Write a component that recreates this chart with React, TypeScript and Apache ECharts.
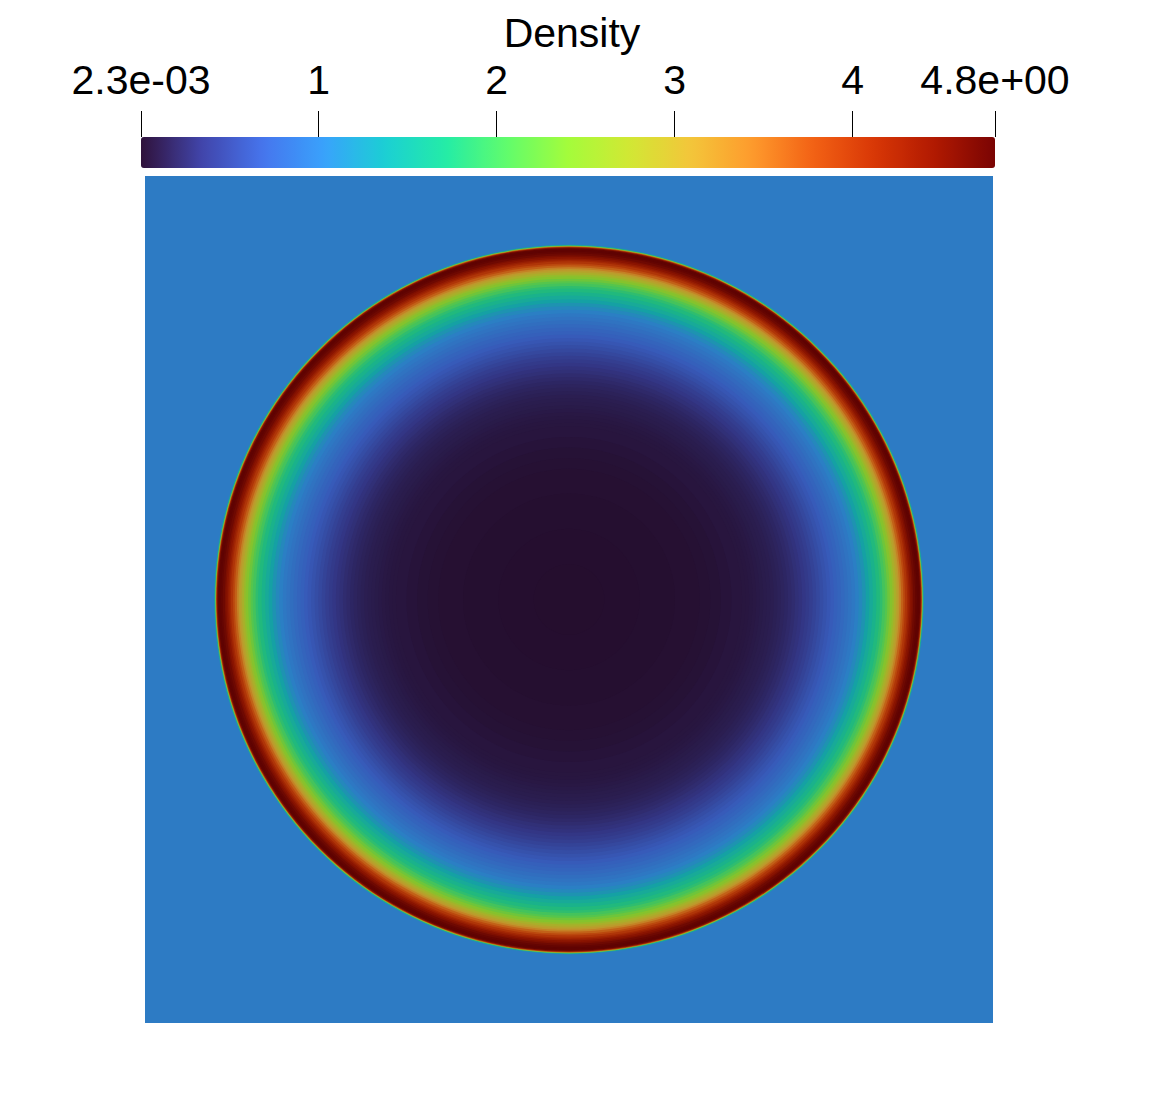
import React, { useEffect, useRef } from "react";
import * as echarts from "echarts";

// ---- data ----
const densityMin = 0.0023;
const densityMax = 4.8;
const domainHalfWidth = 1.2;
const ambientDensity = 1;
const colorbarTicks = [0.0023, 1, 2, 3, 4, 4.8];
const colorbarTickLabels = ["2.3e-03", "1", "2", "3", "4", "4.8e+00"];

// radial density profile of the blast wave (radius, density)
const profileRadius = [
  0.0, 0.1, 0.2, 0.3, 0.37, 0.4, 0.43, 0.46, 0.49, 0.5, 0.51, 0.52, 0.53, 0.54, 0.55, 0.56, 0.57,
  0.58, 0.59, 0.6, 0.61, 0.62, 0.63, 0.64, 0.65, 0.66, 0.67, 0.68, 0.69, 0.7, 0.71, 0.72, 0.73,
  0.74, 0.75, 0.76, 0.77, 0.78, 0.79, 0.8, 0.81, 0.82, 0.83, 0.84, 0.85, 0.86, 0.87, 0.88, 0.887,
  0.895, 0.901, 0.908, 0.915, 0.92, 0.926, 0.931, 0.935, 0.94, 0.946, 0.951, 0.957, 0.961, 0.965,
  0.97, 0.974, 0.98, 0.985, 0.99, 0.994, 0.997, 0.999, 1.001, 1.003, 1.005,
];
const profileDensity = [
  0.0023, 0.003, 0.005, 0.01, 0.02, 0.027, 0.035, 0.048, 0.065, 0.07, 0.075, 0.082, 0.09, 0.1,
  0.11, 0.12, 0.13, 0.14, 0.155, 0.17, 0.19, 0.21, 0.235, 0.26, 0.29, 0.315, 0.345, 0.38, 0.42,
  0.465, 0.51, 0.555, 0.6, 0.645, 0.69, 0.735, 0.78, 0.825, 0.87, 0.92, 0.97, 1.04, 1.13, 1.24,
  1.38, 1.5, 1.62, 1.75, 1.85, 2.0, 2.12, 2.28, 2.45, 2.62, 2.82, 2.98, 3.12, 3.35, 3.62, 3.82,
  4.02, 4.18, 4.32, 4.46, 4.56, 4.68, 4.76, 4.8, 4.78, 4.5, 3.8, 2.6, 1.6, 1.15,
];

// ---- style ----
const turboStops = [
  "#30123b", "#4145ab", "#4675ed", "#39a2fc", "#1bcfd4", "#24eca6", "#61fc6c", "#a4fc3b",
  "#d1e834", "#f3c63a", "#fe9b2d", "#f36315", "#d93806", "#b11901", "#7a0403",
];
const shade = 0.78;
const shadedStops = turboStops.map((h) => {
  const n = parseInt(h.slice(1), 16);
  const r = Math.round(((n >> 16) & 255) * shade);
  const g = Math.round(((n >> 8) & 255) * shade);
  const b = Math.round((n & 255) * shade);
  return `rgb(${r},${g},${b})`;
});
const FONT = "Liberation Sans";

export default function App() {
  const ref = useRef<HTMLDivElement>(null);
  useEffect(() => {
    if (!ref.current) return;
    const chart = echarts.init(ref.current, null, { renderer: "svg" });

    const discData = profileRadius.map((r, i) => [r, profileDensity[i]]).reverse();

    const option = {
      animation: false,
      backgroundColor: "#ffffff",
      title: {
        text: "Density",
        left: 572,
        top: 12,
        padding: 0,
        textAlign: "center",
        textStyle: { fontFamily: FONT, fontSize: 41, fontWeight: "normal", color: "#000" },
      },
      grid: [
        { left: 141, top: 137, width: 854, height: 31 },
        { left: 145, top: 176, width: 848, height: 847 },
      ],
      xAxis: [
        {
          gridIndex: 0,
          type: "value",
          min: densityMin,
          max: densityMax,
          position: "top",
          axisLine: { show: false, onZero: false },
          splitLine: { show: false },
          axisTick: {
            show: true,
            customValues: colorbarTicks,
            length: 26,
            inside: false,
            lineStyle: { color: "#000", width: 1 },
          },
          axisLabel: {
            show: true,
            customValues: colorbarTicks,
            margin: 37,
            fontSize: 41,
            fontFamily: FONT,
            color: "#000",
            formatter: (v: number) => {
              const i = colorbarTicks.findIndex((t) => Math.abs(t - v) < 1e-6);
              return i >= 0 ? colorbarTickLabels[i] : "";
            },
          },
          z: 10,
        },
        { gridIndex: 1, type: "value", min: -domainHalfWidth, max: domainHalfWidth, show: false },
      ],
      yAxis: [
        { gridIndex: 0, type: "value", min: 0, max: 1, show: false },
        { gridIndex: 1, type: "value", min: -domainHalfWidth, max: domainHalfWidth, show: false },
      ],
      visualMap: [
        {
          type: "continuous",
          show: true,
          min: densityMin,
          max: densityMax,
          orient: "horizontal",
          left: 141,
          top: 137,
          padding: 0,
          itemWidth: 31,
          itemHeight: 854,
          calculable: false,
          hoverLink: false,
          seriesIndex: 2,
          inRange: { color: turboStops },
        },
        {
          type: "continuous",
          show: false,
          min: densityMin,
          max: densityMax,
          dimension: 1,
          seriesIndex: [0, 1],
          inRange: { color: shadedStops },
        },
      ],
      series: [
        {
          type: "custom",
          xAxisIndex: 1,
          yAxisIndex: 1,
          silent: true,
          data: [[domainHalfWidth, ambientDensity]],
          renderItem: (params: any, api: any) => {
            const h = api.value(0);
            const p0 = api.coord([-h, h]);
            const p1 = api.coord([h, -h]);
            return {
              type: "rect",
              shape: { x: p0[0], y: p0[1], width: p1[0] - p0[0], height: p1[1] - p0[1] },
              style: { fill: api.visual("color") },
            };
          },
        },
        {
          type: "custom",
          xAxisIndex: 1,
          yAxisIndex: 1,
          silent: true,
          data: discData,
          renderItem: (params: any, api: any) => {
            const c = api.coord([0, 0]);
            const e = api.coord([api.value(0), 0]);
            return {
              type: "circle",
              shape: { cx: c[0], cy: c[1], r: Math.max(0, e[0] - c[0]) },
              style: { fill: api.visual("color") },
            };
          },
        },
        {
          type: "line",
          xAxisIndex: 0,
          yAxisIndex: 0,
          data: [],
          silent: true,
        },
      ],
    };
    chart.setOption(option as any);
    return () => chart.dispose();
  }, []);

  return (
    <div
      ref={ref}
      style={{ position: "fixed", left: 0, top: 0, width: 1162, height: 1096, background: "#fff" }}
    />
  );
}
